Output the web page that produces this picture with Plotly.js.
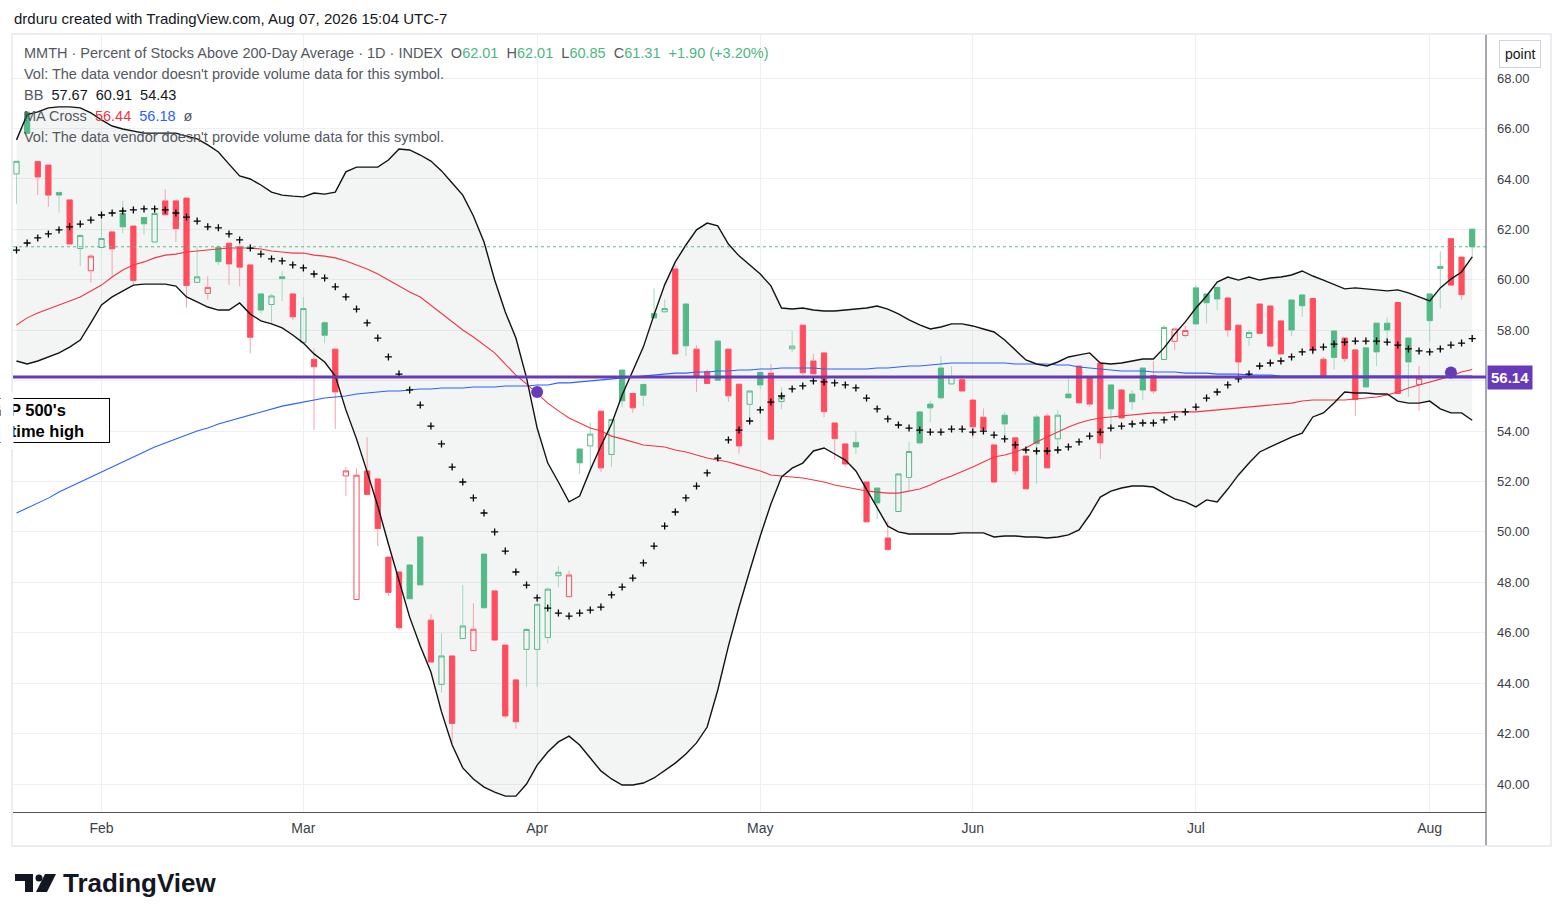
<!DOCTYPE html>
<html>
<head>
<meta charset="utf-8">
<script src="https://cdn.plot.ly/plotly-3.0.1.min.js"></script>
<style>
html,body{margin:0;padding:0;background:#ffffff;}
#chart{width:1564px;height:921px;}
</style>
</head>
<body>
<div id="chart"></div>
<script>
// ---------- DATA ----------
const dates = [
 '2026-01-21','2026-01-22','2026-01-23','2026-01-26','2026-01-27','2026-01-28','2026-01-29','2026-01-30',
 '2026-02-02','2026-02-03','2026-02-04','2026-02-05','2026-02-06','2026-02-09','2026-02-10','2026-02-11','2026-02-12','2026-02-13',
 '2026-02-17','2026-02-18','2026-02-19','2026-02-20','2026-02-23','2026-02-24','2026-02-25','2026-02-26','2026-02-27',
 '2026-03-02','2026-03-03','2026-03-04','2026-03-05','2026-03-06','2026-03-09','2026-03-10','2026-03-11','2026-03-12','2026-03-13',
 '2026-03-16','2026-03-17','2026-03-18','2026-03-19','2026-03-20','2026-03-23','2026-03-24','2026-03-25','2026-03-26','2026-03-27',
 '2026-03-30','2026-03-31',
 '2026-04-01','2026-04-02','2026-04-06','2026-04-07','2026-04-08','2026-04-09','2026-04-10','2026-04-13','2026-04-14','2026-04-15',
 '2026-04-16','2026-04-17','2026-04-20','2026-04-21','2026-04-22','2026-04-23','2026-04-24','2026-04-27','2026-04-28','2026-04-29','2026-04-30',
 '2026-05-01','2026-05-04','2026-05-05','2026-05-06','2026-05-07','2026-05-08','2026-05-11','2026-05-12','2026-05-13','2026-05-14',
 '2026-05-15','2026-05-18','2026-05-19','2026-05-20','2026-05-21','2026-05-22','2026-05-26','2026-05-27','2026-05-28','2026-05-29',
 '2026-06-01','2026-06-02','2026-06-03','2026-06-04','2026-06-05','2026-06-08','2026-06-09','2026-06-10','2026-06-11','2026-06-12',
 '2026-06-15','2026-06-16','2026-06-17','2026-06-18','2026-06-22','2026-06-23','2026-06-24','2026-06-25','2026-06-26','2026-06-29','2026-06-30',
 '2026-07-01','2026-07-02','2026-07-06','2026-07-07','2026-07-08','2026-07-09','2026-07-10','2026-07-13','2026-07-14','2026-07-15',
 '2026-07-16','2026-07-17','2026-07-20','2026-07-21','2026-07-22','2026-07-23','2026-07-24','2026-07-27','2026-07-28','2026-07-29',
 '2026-07-30','2026-07-31',
 '2026-08-03','2026-08-04','2026-08-05','2026-08-06','2026-08-07'
];

const openV = [
 64.20,66.65,64.69,64.55,63.46,63.17,61.24,60.36,61.28,61.90,
 62.63,62.13,62.47,61.50,63.13,63.13,63.24,59.90,59.46,61.29,
 61.45,61.31,60.59,59.44,59.02,60.12,59.44,57.52,56.85,58.30,
 57.25,52.22,47.32,52.42,52.10,49.00,48.41,48.69,49.80,46.50,
 43.95,45.08,45.77,45.29,49.12,47.66,45.51,44.13,45.34,45.34,
 45.81,48.26,47.43,53.29,53.41,54.79,53.07,56.42,55.49,55.85,
 58.66,58.73,60.43,59.04,57.25,56.36,57.57,57.25,55.86,55.06,
 56.33,56.30,55.17,57.26,58.20,56.78,57.10,54.32,53.49,53.55,
 51.98,51.74,49.76,50.81,52.16,54.76,55.07,56.50,55.87,56.04,
 55.23,54.55,53.45,54.63,53.73,53.01,54.56,54.60,53.69,55.47,
 56.58,56.14,56.69,55.83,55.63,55.47,56.50,56.20,56.84,57.56,
 57.79,59.68,59.44,59.70,59.28,58.20,57.71,59.04,58.96,58.37,
 59.20,59.40,59.26,56.85,57.97,57.69,57.22,57.30,58.28,58.28,
 59.10,57.69,55.85,59.44,60.45,61.63,60.90,62.01
];
const highV = [
 64.72,66.65,64.70,64.55,63.50,63.20,61.80,61.02,62.37,61.90,
 63.14,62.13,62.50,62.86,63.59,63.13,63.24,61.31,60.15,61.38,
 61.45,61.50,60.60,59.44,59.44,60.35,59.44,59.32,57.28,58.35,
 57.25,52.58,52.52,53.75,52.10,49.00,48.41,48.69,49.80,46.74,
 45.97,45.08,47.89,47.17,49.12,47.66,45.51,44.13,46.20,47.13,
 47.80,48.65,48.46,53.29,54.33,54.79,54.50,56.42,55.49,55.85,
 59.66,59.22,60.59,59.04,57.41,56.46,57.57,57.25,55.86,55.63,
 56.33,56.66,55.73,57.97,58.20,57.06,57.10,54.32,53.49,54.00,
 51.98,51.74,50.44,52.30,53.57,54.76,55.20,56.98,56.58,56.22,
 55.23,54.90,53.45,54.76,53.73,53.01,54.66,54.70,54.84,56.18,
 56.58,56.14,56.69,55.83,55.63,55.63,56.50,56.78,58.20,58.10,
 58.17,59.79,59.44,59.70,59.28,58.20,58.03,59.04,58.96,58.37,
 59.24,59.40,59.26,56.94,57.97,57.69,57.22,57.30,58.28,58.51,
 59.10,57.69,56.58,59.44,61.14,61.63,60.90,62.01
];
const lowV = [
 63.00,65.81,63.36,62.90,62.67,61.40,60.55,59.89,61.28,60.13,
 61.85,59.83,61.79,61.50,62.58,61.50,58.90,59.90,59.22,60.59,
 59.80,59.75,57.08,58.67,58.29,59.16,58.40,57.52,54.04,57.48,
 54.08,51.43,47.32,51.49,49.44,47.46,46.11,47.35,47.90,44.84,
 43.62,41.60,45.77,45.29,46.99,45.71,42.60,42.20,43.86,43.86,
 45.57,47.80,47.43,52.30,52.52,52.38,52.58,54.96,54.72,55.00,
 58.47,58.73,57.06,56.98,55.55,55.89,56.02,55.16,53.11,54.44,
 55.66,53.68,54.87,57.14,56.22,56.22,54.55,52.87,52.58,53.09,
 50.40,50.51,49.25,50.81,51.58,53.47,54.36,55.25,55.87,55.59,
 53.73,54.07,51.98,53.65,52.26,51.71,51.90,52.54,53.35,55.32,
 55.12,54.96,52.89,54.24,54.52,54.84,55.23,55.49,56.84,57.22,
 57.71,58.25,58.27,58.80,57.74,56.06,57.37,57.88,57.32,57.06,
 57.77,58.53,57.02,56.16,56.44,56.74,54.60,55.75,56.58,57.58,
 55.49,55.36,54.80,57.54,58.86,59.79,59.20,60.85
];
const closeV = [
 64.70,65.81,64.08,63.36,63.36,61.42,61.76,60.94,61.64,61.23,
 62.10,59.97,62.22,62.63,62.58,62.03,59.77,60.12,59.70,60.72,
 60.63,60.50,57.72,58.80,59.36,60.05,58.53,58.86,56.55,57.80,
 55.55,52.42,52.25,51.49,50.13,47.60,46.20,47.35,47.90,44.84,
 45.08,42.40,46.27,46.14,46.99,45.71,42.70,42.47,46.13,47.13,
 47.73,48.40,48.29,52.74,53.88,52.54,54.46,55.20,54.92,55.42,
 58.49,58.86,57.06,57.38,56.15,55.89,56.02,55.40,53.41,55.59,
 55.83,53.68,55.34,57.37,56.31,56.27,54.77,53.70,52.69,53.37,
 50.40,51.15,49.30,52.30,53.19,53.53,54.92,55.32,56.17,55.59,
 54.17,54.07,51.98,54.28,52.42,51.71,53.50,52.54,54.63,55.32,
 55.12,55.07,53.53,54.88,54.52,55.16,55.63,55.59,58.11,58.05,
 57.99,58.25,59.09,59.24,58.01,56.74,57.91,57.88,57.37,57.06,
 58.01,58.97,57.24,56.16,56.92,56.88,55.25,55.75,57.14,58.01,
 55.49,56.74,56.09,58.38,60.53,59.79,59.41,61.31
];

// Bollinger Bands (20)
const bbUpper = [
 65.55,66.55,66.66,66.82,66.86,66.86,66.82,66.62,66.34,66.10,
 65.98,65.90,65.82,65.82,65.82,65.82,65.70,65.59,65.35,65.07,
 64.59,64.12,64.00,63.76,63.48,63.36,63.32,63.29,63.44,63.40,
 63.48,64.28,64.47,64.47,64.47,64.75,65.19,65.15,64.95,64.71,
 64.32,63.84,63.36,62.53,61.50,59.99,58.72,57.69,56.11,54.12,
 52.73,51.98,51.19,51.42,52.46,53.41,54.28,55.43,56.42,57.34,
 58.61,59.80,60.71,61.38,61.98,62.25,62.14,61.42,60.95,60.59,
 60.23,59.76,58.88,58.84,58.88,58.80,58.76,58.76,58.80,58.84,
 58.88,58.96,58.84,58.65,58.41,58.21,58.05,58.13,58.25,58.25,
 58.17,58.05,57.93,57.61,57.22,56.82,56.66,56.58,56.74,56.94,
 57.02,57.10,56.70,56.66,56.70,56.78,56.86,56.86,57.30,57.85,
 58.33,58.88,59.36,59.91,60.11,59.99,60.11,59.99,60.07,60.11,
 60.19,60.35,60.15,59.99,59.80,59.64,59.68,59.64,59.60,59.56,
 59.60,59.48,59.32,59.16,59.68,60.03,60.31,60.91
];
const bbBasis = [
 61.18,61.46,61.66,61.82,61.98,62.10,62.21,62.37,62.57,62.65,
 62.73,62.77,62.81,62.81,62.77,62.65,62.49,62.33,62.10,62.06,
 61.82,61.58,61.26,61.02,60.83,60.75,60.59,60.47,60.23,60.07,
 59.72,59.32,58.84,58.29,57.69,56.94,56.26,55.63,55.03,54.20,
 53.49,52.57,51.98,51.35,50.75,50.00,49.24,48.41,47.89,47.38,
 46.98,46.78,46.66,46.78,46.90,47.02,47.50,47.81,48.17,48.77,
 49.44,50.23,50.79,51.35,51.82,52.34,52.93,53.65,54.04,54.40,
 54.84,55.15,55.39,55.67,55.79,55.99,55.95,55.91,55.83,55.71,
 55.31,54.88,54.48,54.24,54.12,54.04,53.96,53.96,54.08,54.08,
 53.96,54.00,53.84,53.69,53.45,53.25,53.21,53.21,53.25,53.37,
 53.57,53.80,53.96,54.12,54.20,54.28,54.32,54.32,54.44,54.56,
 54.76,54.95,55.31,55.55,55.83,56.07,56.26,56.58,56.70,56.78,
 56.94,57.14,57.22,57.33,57.45,57.53,57.57,57.57,57.57,57.53,
 57.41,57.26,57.18,57.14,57.26,57.41,57.49,57.67
];
const bbLower = [
 56.78,56.66,56.78,56.94,57.10,57.33,57.61,58.29,59.00,59.32,
 59.56,59.79,59.83,59.83,59.83,59.75,59.32,59.12,58.92,58.80,
 58.80,59.08,58.64,58.37,58.25,58.09,57.81,57.49,57.06,56.74,
 56.18,54.84,53.69,52.38,51.03,49.52,48.09,46.62,45.47,44.44,
 42.86,41.55,40.64,40.20,39.88,39.68,39.52,39.52,40.00,40.75,
 41.27,41.67,41.90,41.55,41.03,40.52,40.20,39.96,39.96,40.04,
 40.24,40.52,40.83,41.19,41.63,42.26,43.73,45.47,47.02,48.45,
 49.84,51.11,52.18,52.53,52.73,53.21,53.33,53.09,52.85,52.42,
 51.70,50.95,50.23,50.00,49.92,49.92,49.92,49.92,49.92,49.96,
 49.96,49.96,49.80,49.84,49.84,49.80,49.80,49.76,49.80,49.88,
 50.08,50.67,51.38,51.62,51.74,51.82,51.82,51.78,51.54,51.31,
 51.19,50.99,51.27,51.19,51.70,52.26,52.73,53.17,53.37,53.57,
 53.76,53.92,54.56,54.72,55.11,55.55,55.51,55.51,55.47,55.47,
 55.19,55.11,55.11,55.19,54.88,54.72,54.72,54.43
];

// MA Cross: 50-day (red) and 200-day (blue)
const ma50 = [
 58.21,58.49,58.68,58.84,59.00,59.16,59.32,59.56,59.79,60.11,
 60.39,60.59,60.71,60.87,60.98,61.02,61.10,61.14,61.18,61.22,
 61.26,61.26,61.26,61.22,61.14,61.10,61.06,61.06,60.98,60.94,
 60.87,60.75,60.59,60.43,60.23,59.99,59.75,59.52,59.32,59.00,
 58.68,58.33,58.01,57.73,57.41,57.10,56.66,56.22,55.87,55.47,
 55.11,54.80,54.52,54.32,54.12,54.00,53.80,53.69,53.57,53.45,
 53.41,53.37,53.25,53.17,53.05,52.93,52.85,52.77,52.65,52.53,
 52.42,52.26,52.22,52.18,52.14,52.06,51.98,51.86,51.78,51.70,
 51.62,51.58,51.54,51.54,51.62,51.70,51.86,52.06,52.22,52.38,
 52.57,52.77,52.97,53.05,53.17,53.33,53.57,53.76,53.96,54.16,
 54.32,54.44,54.52,54.56,54.60,54.64,54.68,54.72,54.72,54.76,
 54.76,54.76,54.80,54.84,54.88,54.92,54.95,54.99,55.03,55.07,
 55.11,55.19,55.23,55.23,55.23,55.23,55.27,55.31,55.35,55.43,
 55.55,55.71,55.83,55.95,56.07,56.18,56.34,56.44
];
const ma200 = [
 50.75,50.95,51.15,51.34,51.58,51.78,51.98,52.18,52.38,52.57,
 52.77,52.97,53.17,53.37,53.53,53.69,53.84,54.00,54.12,54.28,
 54.40,54.52,54.64,54.76,54.88,54.99,55.07,55.15,55.23,55.31,
 55.35,55.39,55.47,55.51,55.55,55.59,55.59,55.63,55.67,55.67,
 55.71,55.71,55.71,55.75,55.75,55.75,55.79,55.79,55.79,55.83,
 55.83,55.91,55.91,55.95,55.99,56.03,56.07,56.11,56.15,56.18,
 56.22,56.26,56.30,56.30,56.34,56.34,56.38,56.38,56.42,56.42,
 56.46,56.46,56.50,56.50,56.50,56.50,56.46,56.46,56.46,56.46,
 56.46,56.50,56.50,56.54,56.58,56.58,56.62,56.66,56.70,56.70,
 56.70,56.70,56.70,56.70,56.66,56.66,56.66,56.66,56.62,56.62,
 56.54,56.50,56.46,56.42,56.38,56.38,56.38,56.34,56.34,56.34,
 56.30,56.30,56.30,56.26,56.26,56.26,56.22,56.22,56.22,56.18,
 56.18,56.18,56.15,56.15,56.15,56.15,56.15,56.15,56.15,56.15,
 56.15,56.15,56.15,56.15,56.15,56.16,56.17,56.18
];
const crossDates = ['2026-04-01','2026-08-05'];
const crossValues = [55.55, 56.32];

const levelValue = 56.14;              // horizontal drawing line
const monthTicks  = ['2026-02-02','2026-03-02','2026-04-01','2026-05-01','2026-06-01','2026-07-01','2026-08-03'];
const monthLabels = ['Feb','Mar','Apr','May','Jun','Jul','Aug'];
const yTicks = [40,42,44,46,48,50,52,54,56,58,60,62,64,66,68];

// ---------- STYLE ----------
const W = 1564, H = 921;
const PL = 13, PR = 1486, PT = 34, PB = 812;
const UP = '#53B987', DOWN = '#FF4D5E';
const UPW = '#A6D9C0', DOWNW = '#F7A3AD';
const FONT = 'Liberation Sans, Arial, sans-serif';
const X = px => (px - PL) / (PR - PL);
const Y = py => (PB - py) / (PB - PT);
const yRange = [38.89, 69.75];
const xRange = [-0.33, 138.3];

const n = dates.length;
const greenIdx = [], redIdx = [];
for (let i = 0; i < n; i++) {
  if (i === 0 || closeV[i] >= closeV[i-1]) greenIdx.push(i); else redIdx.push(i);
}

function candleTrace(idx, col) {
  return {
    type: 'candlestick', xaxis: 'x2', yaxis: 'y2',
    x: idx.map(i => dates[i]),
    open: idx.map(i => openV[i]),
    close: idx.map(i => closeV[i]),
    high: idx.map(i => Math.max(openV[i], closeV[i])),
    low: idx.map(i => Math.min(openV[i], closeV[i])),
    increasing: {line: {color: col, width: 1}, fillcolor: 'rgba(0,0,0,0)'},
    decreasing: {line: {color: col, width: 1}, fillcolor: col},
    whiskerwidth: 0, hoverinfo: 'skip', showlegend: false
  };
}
function wickTrace(idx, col) {
  const x = [], y = [];
  idx.forEach(i => {
    const top = Math.max(openV[i], closeV[i]), bot = Math.min(openV[i], closeV[i]);
    if (highV[i] > top) { x.push(dates[i], dates[i], dates[i]); y.push(highV[i], top, null); }
    if (lowV[i] < bot) { x.push(dates[i], dates[i], dates[i]); y.push(bot, lowV[i], null); }
  });
  return {type: 'scatter', mode: 'lines', xaxis: 'x2', yaxis: 'y2', x, y,
          line: {color: col, width: 1}, connectgaps: false, hoverinfo: 'skip', showlegend: false};
}

const traces = [
  // band fill on base subplot
  {type: 'scatter', mode: 'lines', x: dates, y: bbUpper, line: {width: 0, color: 'rgba(0,0,0,0)'}, hoverinfo: 'skip', showlegend: false},
  {type: 'scatter', mode: 'lines', x: dates, y: bbLower, line: {width: 0, color: 'rgba(0,0,0,0)'}, fill: 'tonexty',
   fillcolor: 'rgba(120,128,128,0.085)', hoverinfo: 'skip', showlegend: false},
  // candles on overlay subplot
  candleTrace(greenIdx, UP),
  candleTrace(redIdx, DOWN),
  wickTrace(greenIdx, UPW),
  wickTrace(redIdx, DOWNW),
  // indicator lines
  {type: 'scatter', mode: 'lines', xaxis: 'x2', yaxis: 'y2', x: dates, y: ma200, line: {color: '#2962FF', width: 1.1}, hoverinfo: 'skip', showlegend: false},
  {type: 'scatter', mode: 'lines', xaxis: 'x2', yaxis: 'y2', x: dates, y: ma50, line: {color: '#F23645', width: 1.1}, hoverinfo: 'skip', showlegend: false},
  {type: 'scatter', mode: 'lines', xaxis: 'x2', yaxis: 'y2', x: dates, y: bbUpper, line: {color: '#131313', width: 1.4}, hoverinfo: 'skip', showlegend: false},
  {type: 'scatter', mode: 'lines', xaxis: 'x2', yaxis: 'y2', x: dates, y: bbLower, line: {color: '#131313', width: 1.4}, hoverinfo: 'skip', showlegend: false},
  {type: 'scatter', mode: 'markers', xaxis: 'x2', yaxis: 'y2', x: dates, y: bbBasis,
   marker: {symbol: 'cross-thin', size: 5, line: {color: '#000000', width: 1.3}, color: '#000000'}, hoverinfo: 'skip', showlegend: false},
  {type: 'scatter', mode: 'markers', xaxis: 'x2', yaxis: 'y2', x: crossDates, y: crossValues,
   marker: {symbol: 'circle', size: 12, color: '#673AB7'}, hoverinfo: 'skip', showlegend: false}
];

const fmt = v => v.toFixed(2);
const last = n - 1;
const chg = closeV[last] - closeV[last-1];
const pct = chg / closeV[last-1] * 100;
const G = '#4CB782';
const sp = '\u00A0';
const labelCol = '#555861', valCol = '#131722';

const legend1 = 'MMTH · Percent of Stocks Above 200-Day Average · 1D · INDEX' + sp + sp +
  'O<span style="color:' + G + '">' + fmt(openV[last]) + '</span>' + sp + sp +
  'H<span style="color:' + G + '">' + fmt(highV[last]) + '</span>' + sp + sp +
  'L<span style="color:' + G + '">' + fmt(lowV[last]) + '</span>' + sp + sp +
  'C<span style="color:' + G + '">' + fmt(closeV[last]) + '</span>' + sp + sp +
  '<span style="color:' + G + '">' + (chg >= 0 ? '+' : '') + fmt(chg) + ' (' + (pct >= 0 ? '+' : '') + fmt(pct) + '%)</span>';
const volTxt = "Vol: The data vendor doesn't provide volume data for this symbol.";
const legend3 = 'BB' + sp + sp + '<span style="color:' + valCol + '">' + fmt(bbBasis[last]) + sp + sp + fmt(bbUpper[last]) + sp + sp + fmt(bbLower[last]) + '</span>';
const legend4 = 'MA Cross' + sp + sp + '<span style="color:#F23645">' + fmt(ma50[last]) + '</span>' + sp + sp +
  '<span style="color:#2962FF">' + fmt(ma200[last]) + '</span>' + sp + sp + 'ø';

function legendAnn(text, py) {
  return {xref: 'paper', yref: 'paper', x: X(22), y: Y(py), xanchor: 'left', yanchor: 'middle',
          text: text, showarrow: false, align: 'left', font: {family: FONT, size: 14.5, color: labelCol}};
}

const annotations = [
  {xref: 'paper', yref: 'paper', x: X(12), y: Y(18), xanchor: 'left', yanchor: 'middle', showarrow: false,
   text: 'drduru created with TradingView.com, Aug 07, 2026 15:04 UTC-7', font: {family: FONT, size: 15, color: '#131722'}},
  legendAnn(legend1, 53),
  legendAnn(volTxt, 74),
  legendAnn(legend3, 95),
  legendAnn(legend4, 116),
  legendAnn(volTxt, 137),
  {xref: 'paper', yref: 'paper', x: X(1520), y: Y(54), xanchor: 'center', yanchor: 'middle', showarrow: false,
   text: 'point', font: {family: FONT, size: 14, color: '#131722'}, bgcolor: '#ffffff', bordercolor: '#D1D4DC', borderwidth: 1, borderpad: 5},
  {xref: 'paper', yref: 'y', x: X(1487), y: levelValue, xanchor: 'left', yanchor: 'middle', showarrow: false,
   text: '<b>' + fmt(levelValue) + '</b>', font: {family: FONT, size: 15, color: '#ffffff'}, bgcolor: '#673AB7', borderpad: 3},
  {xref: 'paper', yref: 'paper', x: X(-16), y: Y(420.5), xanchor: 'left', yanchor: 'middle', showarrow: false, align: 'left',
   text: '<b>S&amp;P 500\'s<br>all-time high</b>', font: {family: FONT, size: 16.5, color: '#000000'},
   width: 120, bgcolor: '#ffffff', bordercolor: '#000000', borderwidth: 1, borderpad: 2},
  {xref: 'paper', yref: 'paper', x: X(0), y: Y(421), xanchor: 'left', yanchor: 'middle', showarrow: false,
   text: ' ', width: 12, height: 56, bgcolor: '#ffffff', borderpad: 0},
  {xref: 'paper', yref: 'paper', x: X(61), y: Y(883), xanchor: 'left', yanchor: 'middle', showarrow: false,
   text: '<b>TradingView</b>', font: {family: FONT, size: 26, color: '#131722'}}
];

const shapes = [
  // level drawing
  {type: 'line', xref: 'paper', yref: 'y', x0: 0, x1: 1, y0: levelValue, y1: levelValue, line: {color: '#673AB7', width: 3}},
  // last price dotted line
  {type: 'line', xref: 'paper', yref: 'y', x0: 0, x1: 1, y0: closeV[last], y1: closeV[last], line: {color: '#5BB98C', width: 1, dash: 'dot'}},
  // price scale border
  {type: 'line', xref: 'paper', yref: 'paper', x0: 1, x1: 1, y0: Y(846), y1: 1, line: {color: '#50535E', width: 1}},
  // outer frame
  {type: 'rect', xref: 'paper', yref: 'paper', x0: X(12), x1: X(1551), y0: Y(846), y1: Y(34), line: {color: '#E6E8EC', width: 1.5}},
  // TradingView logo
  {type: 'rect', xref: 'paper', yref: 'paper', x0: X(15), x1: X(33), y0: Y(881), y1: Y(874), fillcolor: '#131722', line: {width: 0}},
  {type: 'rect', xref: 'paper', yref: 'paper', x0: X(25), x1: X(33), y0: Y(892), y1: Y(874), fillcolor: '#131722', line: {width: 0}},
  {type: 'circle', xref: 'paper', yref: 'paper', x0: X(35.5), x1: X(42.5), y0: Y(881.5), y1: Y(874.5), fillcolor: '#131722', line: {width: 0}},
  {type: 'path', xref: 'paper', yref: 'paper', fillcolor: '#131722', line: {width: 0},
   path: 'M' + X(45) + ',' + Y(874) + ' L' + X(56) + ',' + Y(874) + ' L' + X(47) + ',' + Y(892) + ' L' + X(36) + ',' + Y(892) + ' Z'}
];

const layout = {
  width: W, height: H,
  margin: {l: PL, r: W - PR, t: PT, b: H - PB, pad: 0},
  paper_bgcolor: '#ffffff', plot_bgcolor: '#ffffff',
  showlegend: false, hovermode: false,
  font: {family: FONT, size: 13, color: '#131722'},
  xaxis: {type: 'category', categoryorder: 'array', categoryarray: dates, range: xRange,
          tickmode: 'array', tickvals: monthTicks, ticktext: monthLabels,
          showgrid: true, gridcolor: '#EEF0F4', gridwidth: 1,
          showline: true, linecolor: '#50535E', linewidth: 1, ticks: '', ticklabelstandoff: 3,
          tickfont: {family: FONT, size: 14, color: '#3B3E47'}, zeroline: false, fixedrange: true},
  yaxis: {range: yRange, side: 'right', tickmode: 'array', tickvals: yTicks,
          ticktext: yTicks.map(v => (v === 56 ? '' : v.toFixed(2))),
          showgrid: true, gridcolor: '#EEF0F4', gridwidth: 1, zeroline: false, showline: false,
          ticks: '', ticklabelstandoff: 10, tickfont: {family: FONT, size: 13, color: '#3B3E47'}, fixedrange: true},
  xaxis2: {type: 'category', categoryorder: 'array', categoryarray: dates, range: xRange,
           overlaying: 'x', visible: false, fixedrange: true, rangeslider: {visible: false}},
  yaxis2: {range: yRange, overlaying: 'y', visible: false, fixedrange: true},
  annotations: annotations,
  shapes: shapes
};

Plotly.newPlot('chart', traces, layout, {staticPlot: true, displayModeBar: false});
</script>
</body>
</html>
